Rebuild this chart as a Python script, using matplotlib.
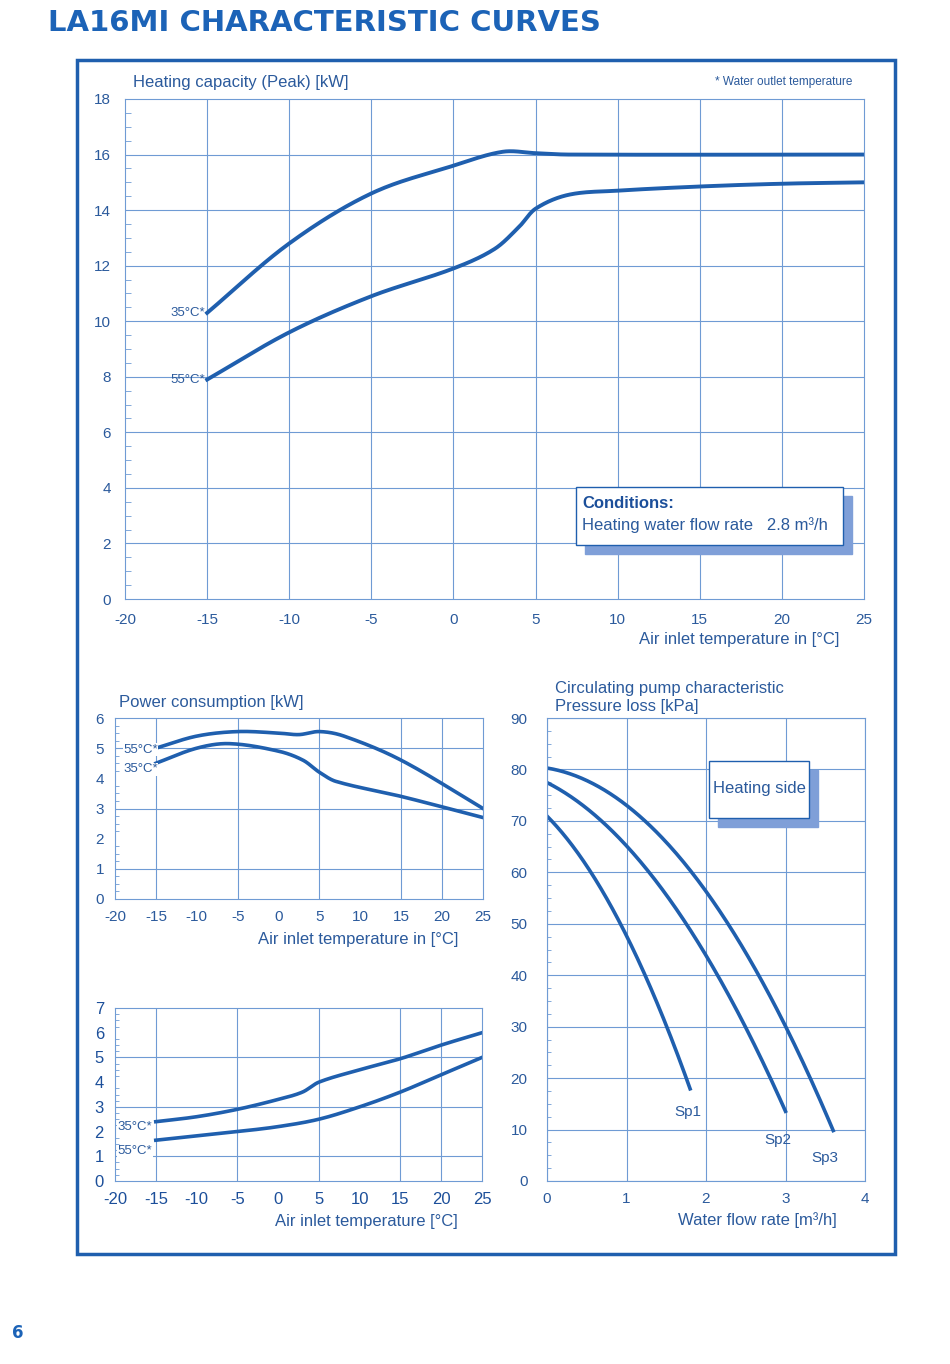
import matplotlib
matplotlib.use("Agg")
import matplotlib.pyplot as plt
import numpy as np
from matplotlib.patches import Rectangle

plt.rcParams['font.family'] = ['Liberation Sans', 'DejaVu Sans']
plt.rcParams['axes.unicode_minus'] = False

# ---- data ----
cap_x35 = [-15, -10, -5, 0, 3, 5, 7, 25]
cap_y35 = [10.3, 12.8, 14.6, 15.6, 16.1, 16.05, 16.0, 16.0]
cap_x55 = [-15, -10, -5, 0, 2.5, 4, 5, 7, 10, 15, 20, 25]
cap_y55 = [7.9, 9.6, 10.9, 11.9, 12.6, 13.4, 14.05, 14.55, 14.7, 14.85, 14.95, 15.0]

pw_x55 = [-15, -10, -5, 0, 2.5, 5, 8, 15, 25]
pw_y55 = [5.0, 5.4, 5.55, 5.5, 5.45, 5.55, 5.4, 4.6, 3.0]
pw_x35 = [-15, -10, -6, 0, 3, 5, 7, 15, 25]
pw_y35 = [4.5, 5.0, 5.15, 4.9, 4.6, 4.2, 3.9, 3.4, 2.7]

cop_x = [-15, -10, -5, 0, 3, 5, 10, 15, 20, 25]
cop_y35 = [2.4, 2.6, 2.9, 3.3, 3.6, 4.0, 4.5, 4.95, 5.5, 6.0]
cop_x55 = [-15, -5, 0, 5, 10, 15, 20, 25]
cop_y55 = [1.65, 2.0, 2.2, 2.5, 3.0, 3.6, 4.3, 5.0]

sp1_x = [0, 0.5, 1, 1.5, 1.8]; sp1_y = [71, 61, 48, 30, 18]
sp2_x = [0, 1, 2, 3]; sp2_y = [77.5, 65, 44, 13.5]
sp3_x = [0, 1, 2, 3, 3.6]; sp3_y = [80, 74, 55, 31, 9.5]

BLUE = '#1f5fae'
GRID = '#6f9bd4'
TXT = '#2b5a9c'
W, H = 950, 1364
fig = plt.figure(figsize=(9.5, 13.64), dpi=100)

def ax_px(x0, y0, x1, y1):
    return fig.add_axes([x0 / W, 1 - y1 / H, (x1 - x0) / W, (y1 - y0) / H])

def smooth(x, y):
    x = np.asarray(x, float); y = np.asarray(y, float)
    pts = np.c_[x, y]
    pts = np.vstack([pts[0] * 2 - pts[1], pts, pts[-1] * 2 - pts[-2]])
    xs, ys = [], []
    for i in range(1, len(pts) - 2):
        p0, p1, p2, p3 = pts[i - 1], pts[i], pts[i + 1], pts[i + 2]
        # centripetal-ish: scale tangents by segment length
        d = np.linalg.norm(p2 - p1)
        m1 = (p2 - p0) / (np.linalg.norm(p2 - p0) + 1e-9) * d
        m2 = (p3 - p1) / (np.linalg.norm(p3 - p1) + 1e-9) * d
        for s in np.linspace(0, 1, 30, endpoint=False):
            h00 = 2*s**3 - 3*s**2 + 1; h10 = s**3 - 2*s**2 + s
            h01 = -2*s**3 + 3*s**2; h11 = s**3 - s**2
            v = h00*p1 + h10*m1 + h01*p2 + h11*m2
            xs.append(v[0]); ys.append(v[1])
    xs.append(x[-1]); ys.append(y[-1])
    return xs, ys

def polyc(x, y, deg=2):
    c = np.polyfit(x, y, deg)
    xx = np.linspace(min(x), max(x), 200)
    return xx, np.polyval(c, xx)

def style(ax):
    for s in ax.spines.values():
        s.set_color(GRID); s.set_linewidth(0.8)
    ax.tick_params(colors=TXT, labelcolor=TXT, length=0, labelsize=10.5)
    ax.grid(False)

fig.patches.append(Rectangle((77 / W, 1 - 1254 / H), (895 - 77) / W, (1254 - 60) / H,
                             transform=fig.transFigure, fill=False, ec=BLUE, lw=2.5))
fig.text(48 / W, 1 - 23 / H, 'LA16MI CHARACTERISTIC CURVES', fontsize=21, fontweight='heavy',
         color='#1c63b7', va='center', family='DejaVu Sans')
fig.text(12 / W, 1 - 1333 / H, '6', fontsize=12, fontweight='bold', color='#1c63b7', va='center', family='DejaVu Sans')

# main
ax = ax_px(125, 99, 864, 599)
style(ax)
ax.set_xlim(-20, 25); ax.set_ylim(0, 18)
ax.set_xticks(range(-20, 26, 5)); ax.set_yticks(range(0, 19, 2))
for v in range(-15, 25, 5): ax.axvline(v, color=GRID, lw=0.8)
for v in range(2, 18, 2): ax.axhline(v, color=GRID, lw=0.8)
ax.set_yticks(np.arange(0, 18, 0.5), minor=True)
ax.tick_params(axis='y', which='minor', length=4, color=GRID, direction='in')
ax.tick_params(axis='both', pad=10, labelsize=11)
ax.plot(*smooth(cap_x35, cap_y35), color=BLUE, lw=2.8)
ax.plot(*smooth(cap_x55, cap_y55), color=BLUE, lw=2.8)
ax.text(-15.1, 10.3, '35°C*', ha='right', va='center', color=TXT, fontsize=9.5)
ax.text(-15.1, 7.9, '55°C*', ha='right', va='center', color=TXT, fontsize=9.5)
ax.text(-19.5, 18.6, 'Heating capacity (Peak) [kW]', color=TXT, fontsize=12, va='center')
ax.text(24.3, 18.6, '* Water outlet temperature', color=TXT, fontsize=8.5, ha='right', va='center')
ax.text(23.5, -1.45, 'Air inlet temperature in [°C]', color=TXT, fontsize=12, ha='right', va='center')
fig.patches.append(Rectangle((585 / W, 1 - 554 / H), 267 / W, 58 / H, transform=fig.transFigure,
                             color='#7f9fd8', zorder=5))
fig.patches.append(Rectangle((576 / W, 1 - 545 / H), 267 / W, 58 / H, transform=fig.transFigure,
                             fc='white', ec=BLUE, lw=1, zorder=6))
fig.text(582 / W, 1 - 504 / H, 'Conditions:', color='#1c4f9a', fontsize=12, fontweight='bold', va='center', zorder=7)
fig.text(582 / W, 1 - 525 / H, 'Heating water flow rate   2.8 m³/h', color=TXT, fontsize=12, va='center', zorder=7)

# power
ax2 = ax_px(115, 718, 483, 899)
style(ax2)
ax2.set_xlim(-20, 25); ax2.set_ylim(0, 6)
ax2.set_xticks(range(-20, 26, 5)); ax2.set_yticks(range(0, 7))
for v in [-15, -5, 5, 15, 20]: ax2.axvline(v, color=GRID, lw=0.8)
for v in [1, 3, 5]: ax2.axhline(v, color=GRID, lw=0.8)
ax2.set_yticks(np.arange(0, 6, 0.25), minor=True)
ax2.tick_params(axis='y', which='minor', length=3, color=GRID, direction='in')
ax2.tick_params(axis='both', pad=8, labelsize=11)
ax2.plot(*smooth(pw_x55, pw_y55), color=BLUE, lw=2.6)
ax2.plot(*smooth(pw_x35, pw_y35), color=BLUE, lw=2.6)
ax2.text(-19, 4.95, '55°C*', color=TXT, fontsize=9.5, va='center', bbox=dict(fc='white', ec='none', pad=0.5))
ax2.text(-19, 4.3, '35°C*', color=TXT, fontsize=9.5, va='center', bbox=dict(fc='white', ec='none', pad=0.5))
ax2.text(-19.5, 6.5, 'Power consumption [kW]', color=TXT, fontsize=12, va='center')
ax2.text(22, -1.35, 'Air inlet temperature in [°C]', color=TXT, fontsize=12, ha='right', va='center')

# COP
ax3 = ax_px(115, 1008, 482, 1181)
style(ax3)
ax3.set_xlim(-20, 25); ax3.set_ylim(0, 7)
ax3.set_xticks(range(-20, 26, 5)); ax3.set_yticks(range(0, 8))
for v in [-15, -5, 5, 15, 20]: ax3.axvline(v, color=GRID, lw=0.8)
for v in [1, 3, 5]: ax3.axhline(v, color=GRID, lw=0.8)
ax3.set_yticks(np.arange(0, 7, 0.25), minor=True)
ax3.tick_params(axis='y', which='minor', length=3, color=GRID, direction='in')
ax3.tick_params(axis='both', pad=8, labelsize=12, labelcolor='#1c4f9a')
ax3.plot(*smooth(cop_x, cop_y35), color=BLUE, lw=2.6)
ax3.plot(*smooth(cop_x55, cop_y55), color=BLUE, lw=2.6)
ax3.text(-15.4, 2.2, '35°C*', color=TXT, fontsize=9.5, ha='right', va='center', bbox=dict(fc='white', ec='none', pad=0.5))
ax3.text(-15.4, 1.2, '55°C*', color=TXT, fontsize=9.5, ha='right', va='center', bbox=dict(fc='white', ec='none', pad=0.5))
ax3.text(22, -1.65, 'Air inlet temperature [°C]', color=TXT, fontsize=12, ha='right', va='center')

# pump
ax4 = ax_px(547, 718, 865, 1181)
style(ax4)
ax4.grid(True, color=GRID, linewidth=0.8); ax4.set_axisbelow(True)
ax4.set_xlim(0, 4); ax4.set_ylim(0, 90)
ax4.set_xticks(range(0, 5)); ax4.set_yticks(range(0, 91, 10))
ax4.set_yticks(np.arange(0, 90, 2.5), minor=True)
ax4.tick_params(axis='y', which='minor', length=3, color=GRID, direction='in')
ax4.tick_params(axis='y', pad=14, labelsize=11)
ax4.tick_params(axis='x', pad=8, labelsize=11)
for xs, ys in [(sp1_x, sp1_y), (sp2_x, sp2_y), (sp3_x, sp3_y)]:
    ax4.plot(*polyc(xs, ys, 2), color=BLUE, lw=2.6)
ax4.text(1.6, 13.5, 'Sp1', color=TXT, fontsize=11, va='center')
ax4.text(2.73, 8, 'Sp2', color=TXT, fontsize=11, va='center')
ax4.text(3.33, 4.5, 'Sp3', color=TXT, fontsize=11, va='center')
ax4.text(0.1, 95.8, 'Circulating pump characteristic', color=TXT, fontsize=12, va='center')
ax4.text(0.1, 92.2, 'Pressure loss [kPa]', color=TXT, fontsize=12, va='center')
ax4.text(3.65, -7.5, 'Water flow rate [m³/h]', color=TXT, fontsize=12, ha='right', va='center')
fig.patches.append(Rectangle((718 / W, 1 - 827 / H), 100 / W, 57 / H, transform=fig.transFigure,
                             color='#7f9fd8', zorder=5))
fig.patches.append(Rectangle((709 / W, 1 - 818 / H), 100 / W, 57 / H, transform=fig.transFigure,
                             fc='white', ec=BLUE, lw=1, zorder=6))
fig.text(759 / W, 1 - 789 / H, 'Heating side', color=TXT, fontsize=12, ha='center', va='center', zorder=7)

fig.savefig('out.png', dpi=100)
